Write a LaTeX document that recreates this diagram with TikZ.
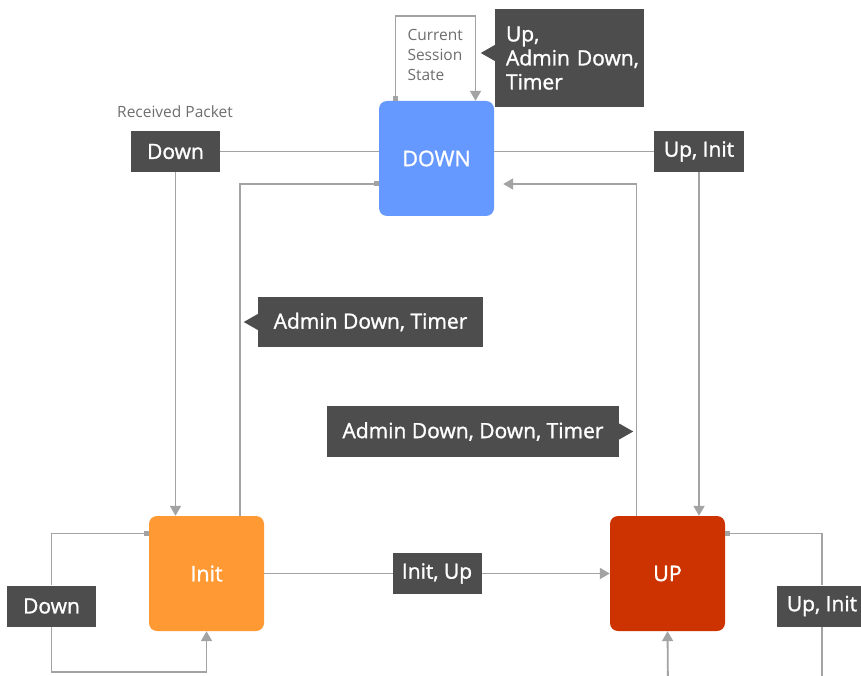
\documentclass[tikz,border=0pt]{standalone}
\usepackage{fontspec}
\setmainfont{Open Sans}
\newfontfamily\medfont{Open Sans}[FakeBold=1.3]
\usepackage{tikz}
\usetikzlibrary{arrows.meta}
\definecolor{downBlue}{HTML}{6699FF}
\definecolor{initOrange}{HTML}{FF9933}
\definecolor{upRed}{HTML}{CC3300}
\definecolor{tagGray}{HTML}{4D4D4D}
\definecolor{lineGray}{HTML}{A3A3A3}
\definecolor{noteGray}{HTML}{6E6E6E}

\begin{document}
\begin{tikzpicture}[x=1pt,y=-1pt,
  state/.style={rounded corners=8pt,minimum width=115pt,minimum height=115pt,text=white,font=\medfont\fontsize{21.5}{25}\selectfont},
  tag/.style={fill=tagGray,text=white,minimum height=41pt,inner xsep=8pt,font=\medfont\fontsize{21}{24}\selectfont},
  note/.style={text=noteGray,font=\fontsize{15.5}{20}\selectfont},
  conn/.style={draw=lineGray,line width=1.8pt},
  >={Triangle[length=10pt,width=11pt]},
  sqtri/.style={arrows={Square[length=5pt,width=5pt]}->},
  sqonly/.style={arrows={Square[length=5pt,width=5pt]}-}]
  \useasboundingbox (0,0) rectangle (861,676);

  % states
  \draw (436.5,158.5) node[state,fill=downBlue] (down) {DOWN};
  \draw (206.5,573.5) node[state,fill=initOrange] (init) {Init};
  \draw (667.5,573.5) node[state,fill=upRed] (up) {UP};

  % received packet tags
  \draw (175,112) node[note] (recv) {Received Packet};
  \draw (175.5,151.5) node[tag,minimum width=89pt] (rdown) {Down};
  \draw (699,151.5) node[tag,minimum width=90pt] (rupinit) {Up, Init};
  \draw (51.5,606) node[tag,minimum width=89pt] (ldown) {Down};
  \draw (822,606) node[tag,minimum width=90pt] (lupinit) {Up, Init};
  \draw (404,55) node[note,align=left,anchor=west] (cur) {Current\\Session\\State};

  % free ends below the picture
  \coordinate (loopend) at (822,690);
  \coordinate (upin) at (668,690);

  % DOWN
  \path[conn,sqtri] ([xshift=-41pt]down.north) -- ++(0,-85) -| ([xshift=39pt]down.north);
  \path[conn] (rdown) -- (rdown -| down.west);
  \path[conn,->] (rdown) -- (rdown |- init.north);
  \path[conn] (rupinit) -- (rupinit -| down.east);
  \path[conn,->] (rupinit) -- (rupinit |- up.north);

  % back to DOWN
  \path[conn,sqonly] ([yshift=-25.5pt]down.west) -| ([xshift=33.5pt]init.north);
  \path[conn,->] ([xshift=-31pt]up.north) |- ([xshift=9pt,yshift=-25.5pt]down.east);

  % Init
  \path[conn,->] (init) -- node[tag,minimum width=89pt] (initup) {Init, Up} (up);
  \path[conn,sqonly] ([yshift=40pt]init.west) -| (ldown);
  \path[conn,->] (ldown) -- ++(0,66) -| (init.south);

  % UP
  \path[conn,sqonly] ([yshift=40pt]up.east) -| (lupinit);
  \path[conn] (lupinit) -- (loopend);
  \path[conn,->] (upin) -- (up.south);

  % callouts
  \draw (569.5,58) node[tag,minimum width=149pt,minimum height=98pt,align=left,text width=127pt,inner xsep=11pt,font=\medfont\fontsize{21}{24}\selectfont] (uat) {Up,\\\mbox{Admin Down,}\\Timer};
  \fill[tagGray] ([yshift=13pt]uat.west) -- ([xshift=-14pt,yshift=5pt]uat.west) -- ([yshift=-3pt]uat.west) -- cycle;
  \draw (370.5,322) node[tag,minimum width=225pt,minimum height=50pt] (adt) {Admin Down, Timer};
  \fill[tagGray] ([yshift=8pt]adt.west) -- ([xshift=-14pt]adt.west) -- ([yshift=-8pt]adt.west) -- cycle;
  \draw (473,431.5) node[tag,minimum width=292pt,minimum height=51pt] (addt) {Admin Down, Down, Timer};
  \fill[tagGray] ([yshift=8pt]addt.east) -- ([xshift=14pt]addt.east) -- ([yshift=-8pt]addt.east) -- cycle;

\end{tikzpicture}
\end{document}
